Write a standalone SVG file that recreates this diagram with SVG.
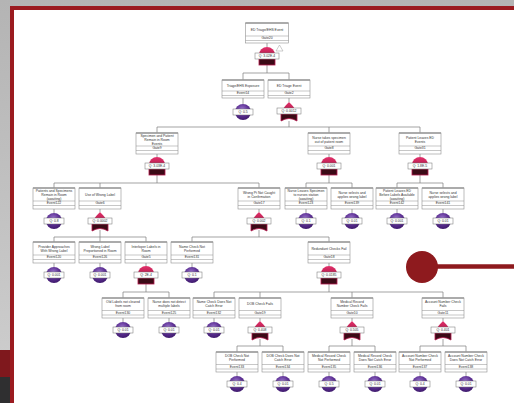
<svg xmlns="http://www.w3.org/2000/svg" xmlns:xlink="http://www.w3.org/1999/xlink" width="514" height="403" viewBox="0 0 514 403">
<defs>
<linearGradient id="bgG" x1="0" y1="0" x2="0" y2="1"><stop offset="0" stop-color="#b4b4b4"/><stop offset="1" stop-color="#cfcfcf"/></linearGradient>
<radialGradient id="pg" cx="0.45" cy="0.35" r="0.7"><stop offset="0" stop-color="#9c78cf"/><stop offset="0.55" stop-color="#5b2e92"/><stop offset="1" stop-color="#3a1766"/></radialGradient>
<linearGradient id="rg" x1="0" y1="0" x2="0" y2="1"><stop offset="0" stop-color="#e2326c"/><stop offset="1" stop-color="#a3103e"/></linearGradient>
<g id="and"><path d="M-8,8A8,8 0 0 1 8,8V12H-8Z" fill="url(#rg)"/><rect x="-8" y="12" width="16" height="6" fill="#3b0a16" stroke="#b3174b" stroke-width="0.8"/></g>
<g id="or"><path d="M0,0C3,3 7,7 8,12H-8C-7,7 -3,3 0,0Z" fill="url(#rg)"/><path d="M-8,12H8V19Q0,14 -8,19Z" fill="#3b0a16" stroke="#b3174b" stroke-width="0.8"/></g>
<circle id="ev" r="8" fill="url(#pg)"/>
</defs>
<style>
.bx{fill:#fff;stroke:#8f8f8f;stroke-width:0.6}
.bt{stroke:#9a9a9a;stroke-width:1.3}
.sp{stroke:#8f8f8f;stroke-width:0.5}
.t{font-family:"Liberation Sans",Arial,sans-serif;font-size:3.4px;fill:#333;text-anchor:middle}
.q{fill:#fff;stroke:#6f6f6f;stroke-width:0.5}
.c line{stroke:#7c7c7c;stroke-width:0.7}
</style>
<rect width="514" height="403" fill="url(#bgG)"/>
<rect x="0" y="350" width="12" height="27" fill="#7f181d"/>
<rect x="0" y="377" width="12" height="26" fill="#2f2f30"/>
<rect x="12" y="8" width="530" height="420" fill="#fff" stroke="#9b1b20" stroke-width="4"/>

<g class="c" id="connectors">
<line x1="267" y1="43" x2="267" y2="47"/><line x1="267" y1="65" x2="267" y2="73"/>
<line x1="243" y1="73" x2="289" y2="73"/><line x1="243" y1="73" x2="243" y2="80"/><line x1="289" y1="73" x2="289" y2="80"/>
<line x1="243" y1="98" x2="243" y2="104"/><line x1="289" y1="98" x2="289" y2="102"/><line x1="289" y1="121" x2="289" y2="127"/>
<line x1="157" y1="127" x2="420" y2="127"/><line x1="157" y1="127" x2="157" y2="133"/><line x1="329" y1="127" x2="329" y2="133"/><line x1="420" y1="127" x2="420" y2="133"/>
<line x1="157" y1="154" x2="157" y2="157"/><line x1="329" y1="154" x2="329" y2="157"/><line x1="420" y1="154" x2="420" y2="157"/>
<line x1="157" y1="175" x2="157" y2="183"/><line x1="329" y1="175" x2="329" y2="183"/><line x1="420" y1="175" x2="420" y2="183"/>
<line x1="54" y1="183" x2="259" y2="183"/><line x1="306" y1="183" x2="352" y2="183"/><line x1="397" y1="183" x2="443" y2="183"/>
<line x1="54" y1="183" x2="54" y2="188"/><line x1="100" y1="183" x2="100" y2="188"/><line x1="259" y1="183" x2="259" y2="188"/><line x1="306" y1="183" x2="306" y2="188"/><line x1="352" y1="183" x2="352" y2="188"/><line x1="397" y1="183" x2="397" y2="188"/><line x1="443" y1="183" x2="443" y2="188"/>
<line x1="54" y1="209" x2="54" y2="213"/><line x1="306" y1="209" x2="306" y2="213"/><line x1="352" y1="209" x2="352" y2="213"/><line x1="397" y1="209" x2="397" y2="213"/><line x1="443" y1="209" x2="443" y2="213"/>
<line x1="100" y1="209" x2="100" y2="212"/><line x1="259" y1="209" x2="259" y2="212"/>
<line x1="100" y1="230" x2="100" y2="237"/><line x1="259" y1="230" x2="259" y2="237"/>
<line x1="54" y1="237" x2="146" y2="237"/><line x1="192" y1="237" x2="329" y2="237"/>
<line x1="54" y1="237" x2="54" y2="242"/><line x1="100" y1="237" x2="100" y2="242"/><line x1="146" y1="237" x2="146" y2="242"/><line x1="192" y1="237" x2="192" y2="242"/><line x1="329" y1="237" x2="329" y2="242"/>
<line x1="54" y1="263" x2="54" y2="267"/><line x1="100" y1="263" x2="100" y2="267"/><line x1="192" y1="263" x2="192" y2="267"/>
<line x1="146" y1="263" x2="146" y2="266"/><line x1="329" y1="263" x2="329" y2="266"/>
<line x1="146" y1="284" x2="146" y2="292"/><line x1="329" y1="284" x2="329" y2="292"/>
<line x1="123" y1="292" x2="169" y2="292"/><line x1="214" y1="292" x2="443" y2="292"/>
<line x1="123" y1="292" x2="123" y2="298"/><line x1="169" y1="292" x2="169" y2="298"/><line x1="214" y1="292" x2="214" y2="298"/><line x1="260" y1="292" x2="260" y2="298"/><line x1="352" y1="292" x2="352" y2="298"/><line x1="443" y1="292" x2="443" y2="298"/>
<line x1="123" y1="318" x2="123" y2="322"/><line x1="169" y1="318" x2="169" y2="322"/><line x1="214" y1="318" x2="214" y2="322"/>
<line x1="260" y1="318" x2="260" y2="321"/><line x1="352" y1="318" x2="352" y2="321"/><line x1="443" y1="318" x2="443" y2="321"/>
<line x1="260" y1="339" x2="260" y2="346"/><line x1="352" y1="339" x2="352" y2="346"/><line x1="443" y1="339" x2="443" y2="346"/>
<line x1="237" y1="346" x2="283" y2="346"/><line x1="329" y1="346" x2="375" y2="346"/><line x1="420" y1="346" x2="466" y2="346"/>
<line x1="237" y1="346" x2="237" y2="352"/><line x1="283" y1="346" x2="283" y2="352"/><line x1="329" y1="346" x2="329" y2="352"/><line x1="375" y1="346" x2="375" y2="352"/><line x1="420" y1="346" x2="420" y2="352"/><line x1="466" y1="346" x2="466" y2="352"/>
<line x1="237" y1="372" x2="237" y2="376"/><line x1="283" y1="372" x2="283" y2="376"/><line x1="329" y1="372" x2="329" y2="376"/><line x1="375" y1="372" x2="375" y2="376"/><line x1="420" y1="372" x2="420" y2="376"/><line x1="466" y1="372" x2="466" y2="376"/>
</g>

<!-- Level 0 -->
<g id="gate20">
<rect class="bx" x="245.5" y="23" width="43" height="20"/><line class="bt" x1="245.5" y1="23" x2="288.5" y2="23"/>
<line class="sp" x1="245.5" y1="36" x2="288.5" y2="36"/><line class="sp" x1="245.5" y1="40.5" x2="288.5" y2="40.5"/>
<text class="t" x="267" y="31">ED Triage/EHS Event</text><text class="t" x="267" y="39.4">Gate20</text>
<use href="#and" x="267" y="47"/><polygon points="276,51 283,51 279.5,45" fill="#fff" stroke="#9a9a9a" stroke-width="0.5"/>
<rect class="q" x="255" y="53" width="24" height="6"/><text class="t" x="267" y="57.3">Q: 3.02E-4</text>
</g>
<!-- Level 1 -->
<g id="event14">
<rect class="bx" x="222" y="80" width="42" height="18"/><line class="bt" x1="222" y1="80" x2="264" y2="80"/>
<line class="sp" x1="222" y1="91" x2="264" y2="91"/><line class="sp" x1="222" y1="95.5" x2="264" y2="95.5"/>
<text class="t" x="243" y="86.8">Triage/EHS Exposure</text><text class="t" x="243" y="94.4">Event14</text>
<use href="#ev" x="243" y="112"/><rect class="q" x="233" y="109" width="20" height="6"/><text class="t" x="243" y="113.3">Q: 0.5</text>
</g>
<g id="gate2">
<rect class="bx" x="268" y="80" width="42" height="18"/><line class="bt" x1="268" y1="80" x2="310" y2="80"/>
<line class="sp" x1="268" y1="91" x2="310" y2="91"/><line class="sp" x1="268" y1="95.5" x2="310" y2="95.5"/>
<text class="t" x="289" y="86.8">ED Triage Event</text><text class="t" x="289" y="94.4">Gate2</text>
<use href="#or" x="289" y="102"/><rect class="q" x="277" y="108" width="24" height="6"/><text class="t" x="289" y="112.3">Q: 0.0012</text>
</g>
<!-- Level 2 -->
<g id="gate9">
<rect class="bx" x="136" y="133" width="42" height="21"/><line class="bt" x1="136" y1="133" x2="178" y2="133"/>
<line class="sp" x1="136" y1="146" x2="178" y2="146"/><line class="sp" x1="136" y1="150.5" x2="178" y2="150.5"/>
<text class="t" x="157" y="137.3">Specimen and Patient</text><text class="t" x="157" y="141.1">Remain in Room</text><text class="t" x="157" y="144.9">Events</text><text class="t" x="157" y="149.4">Gate9</text>
<use href="#and" x="157" y="157"/><rect class="q" x="145" y="163" width="24" height="6"/><text class="t" x="157" y="167.3">Q: 3.03E-4</text>
</g>
<g id="gate8">
<rect class="bx" x="308" y="133" width="42" height="21"/><line class="bt" x1="308" y1="133" x2="350" y2="133"/>
<line class="sp" x1="308" y1="146" x2="350" y2="146"/><line class="sp" x1="308" y1="150.5" x2="350" y2="150.5"/>
<text class="t" x="329" y="138.6">Nurse takes specimen</text><text class="t" x="329" y="142.6">out of patient room</text><text class="t" x="329" y="149.4">Gate8</text>
<use href="#and" x="329" y="157"/><rect class="q" x="317" y="163" width="24" height="6"/><text class="t" x="329" y="167.3">Q: 0.001</text>
</g>
<g id="gate31">
<rect class="bx" x="399" y="133" width="42" height="21"/><line class="bt" x1="399" y1="133" x2="441" y2="133"/>
<line class="sp" x1="399" y1="146" x2="441" y2="146"/><line class="sp" x1="399" y1="150.5" x2="441" y2="150.5"/>
<text class="t" x="420" y="138.6">Patient Leaves ED</text><text class="t" x="420" y="142.6">Events</text><text class="t" x="420" y="149.4">Gate31</text>
<use href="#and" x="420" y="157"/><rect class="q" x="408" y="163" width="24" height="6"/><text class="t" x="420" y="167.3">Q: 1.8E-5</text>
</g>
<!-- Level 3 -->
<g id="event122">
<rect class="bx" x="33" y="188" width="42" height="21"/><line class="bt" x1="33" y1="188" x2="75" y2="188"/>
<line class="sp" x1="33" y1="201" x2="75" y2="201"/><line class="sp" x1="33" y1="205.5" x2="75" y2="205.5"/>
<text class="t" x="54" y="192.3">Patients and Specimens</text><text class="t" x="54" y="196.1">Remain in Room</text><text class="t" x="54" y="199.9">(awaiting)</text><text class="t" x="54" y="204.4">Event122</text>
<use href="#ev" x="54" y="221"/><rect class="q" x="44" y="218" width="20" height="6"/><text class="t" x="54" y="222.3">Q: 0.8</text>
</g>
<g id="gate6">
<rect class="bx" x="79" y="188" width="42" height="21"/><line class="bt" x1="79" y1="188" x2="121" y2="188"/>
<line class="sp" x1="79" y1="201" x2="121" y2="201"/><line class="sp" x1="79" y1="205.5" x2="121" y2="205.5"/>
<text class="t" x="100" y="195.5">Use of Wrong Label</text><text class="t" x="100" y="204.4">Gate6</text>
<use href="#or" x="100" y="212"/><rect class="q" x="88" y="218" width="24" height="6"/><text class="t" x="100" y="222.3">Q: 0.0002</text>
</g>
<g id="gate17">
<rect class="bx" x="238" y="188" width="42" height="21"/><line class="bt" x1="238" y1="188" x2="280" y2="188"/>
<line class="sp" x1="238" y1="201" x2="280" y2="201"/><line class="sp" x1="238" y1="205.5" x2="280" y2="205.5"/>
<text class="t" x="259" y="193.6">Wrong Pt Not Caught</text><text class="t" x="259" y="197.6">in Confirmation</text><text class="t" x="259" y="204.4">Gate17</text>
<use href="#or" x="259" y="212"/><rect class="q" x="247" y="218" width="24" height="6"/><text class="t" x="259" y="222.3">Q: 0.002</text>
</g>
<g id="event123">
<rect class="bx" x="285" y="188" width="42" height="21"/><line class="bt" x1="285" y1="188" x2="327" y2="188"/>
<line class="sp" x1="285" y1="201" x2="327" y2="201"/><line class="sp" x1="285" y1="205.5" x2="327" y2="205.5"/>
<text class="t" x="306" y="192.3">Nurse Leaves Specimen</text><text class="t" x="306" y="196.1">to nurses station</text><text class="t" x="306" y="199.9">(awaiting)</text><text class="t" x="306" y="204.4">Event123</text>
<use href="#ev" x="306" y="221"/><rect class="q" x="296" y="218" width="20" height="6"/><text class="t" x="306" y="222.3">Q: 0.1</text>
</g>
<g id="event139">
<rect class="bx" x="331" y="188" width="42" height="21"/><line class="bt" x1="331" y1="188" x2="373" y2="188"/>
<line class="sp" x1="331" y1="201" x2="373" y2="201"/><line class="sp" x1="331" y1="205.5" x2="373" y2="205.5"/>
<text class="t" x="352" y="193.6">Nurse selects and</text><text class="t" x="352" y="197.6">applies wrong label</text><text class="t" x="352" y="204.4">Event139</text>
<use href="#ev" x="352" y="221"/><rect class="q" x="342" y="218" width="20" height="6"/><text class="t" x="352" y="222.3">Q: 0.01</text>
</g>
<g id="event142">
<rect class="bx" x="376" y="188" width="42" height="21"/><line class="bt" x1="376" y1="188" x2="418" y2="188"/>
<line class="sp" x1="376" y1="201" x2="418" y2="201"/><line class="sp" x1="376" y1="205.5" x2="418" y2="205.5"/>
<text class="t" x="397" y="192.3">Patient Leaves ED</text><text class="t" x="397" y="196.1">Before Labels Available</text><text class="t" x="397" y="199.9">(awaiting)</text><text class="t" x="397" y="204.4">Event142</text>
<use href="#ev" x="397" y="221"/><rect class="q" x="387" y="218" width="20" height="6"/><text class="t" x="397" y="222.3">Q: 0.001</text>
</g>
<g id="event141">
<rect class="bx" x="422" y="188" width="42" height="21"/><line class="bt" x1="422" y1="188" x2="464" y2="188"/>
<line class="sp" x1="422" y1="201" x2="464" y2="201"/><line class="sp" x1="422" y1="205.5" x2="464" y2="205.5"/>
<text class="t" x="443" y="193.6">Nurse selects and</text><text class="t" x="443" y="197.6">applies wrong label</text><text class="t" x="443" y="204.4">Event141</text>
<use href="#ev" x="443" y="221"/><rect class="q" x="433" y="218" width="20" height="6"/><text class="t" x="443" y="222.3">Q: 0.01</text>
</g>
<!-- Level 4 -->
<g id="event120">
<rect class="bx" x="33" y="242" width="42" height="21"/><line class="bt" x1="33" y1="242" x2="75" y2="242"/>
<line class="sp" x1="33" y1="255" x2="75" y2="255"/><line class="sp" x1="33" y1="259.5" x2="75" y2="259.5"/>
<text class="t" x="54" y="247.6">Provider Approaches</text><text class="t" x="54" y="251.6">With Wrong Label</text><text class="t" x="54" y="258.4">Event120</text>
<use href="#ev" x="54" y="275"/><rect class="q" x="44" y="272" width="20" height="6"/><text class="t" x="54" y="276.3">Q: 0.001</text>
</g>
<g id="event126">
<rect class="bx" x="79" y="242" width="42" height="21"/><line class="bt" x1="79" y1="242" x2="121" y2="242"/>
<line class="sp" x1="79" y1="255" x2="121" y2="255"/><line class="sp" x1="79" y1="259.5" x2="121" y2="259.5"/>
<text class="t" x="100" y="247.6">Wrong Label</text><text class="t" x="100" y="251.6">Preportioned in Room</text><text class="t" x="100" y="258.4">Event126</text>
<use href="#ev" x="100" y="275"/><rect class="q" x="90" y="272" width="20" height="6"/><text class="t" x="100" y="276.3">Q: 0.001</text>
</g>
<g id="gate5">
<rect class="bx" x="125" y="242" width="42" height="21"/><line class="bt" x1="125" y1="242" x2="167" y2="242"/>
<line class="sp" x1="125" y1="255" x2="167" y2="255"/><line class="sp" x1="125" y1="259.5" x2="167" y2="259.5"/>
<text class="t" x="146" y="247.6">Interloper Labels in</text><text class="t" x="146" y="251.6">Room</text><text class="t" x="146" y="258.4">Gate5</text>
<use href="#and" x="146" y="266"/><rect class="q" x="134" y="272" width="24" height="6"/><text class="t" x="146" y="276.3">Q: 2E-4</text>
</g>
<g id="event131">
<rect class="bx" x="171" y="242" width="42" height="21"/><line class="bt" x1="171" y1="242" x2="213" y2="242"/>
<line class="sp" x1="171" y1="255" x2="213" y2="255"/><line class="sp" x1="171" y1="259.5" x2="213" y2="259.5"/>
<text class="t" x="192" y="247.6">Name Check Not</text><text class="t" x="192" y="251.6">Performed</text><text class="t" x="192" y="258.4">Event131</text>
<use href="#ev" x="192" y="275"/><rect class="q" x="182" y="272" width="20" height="6"/><text class="t" x="192" y="276.3">Q: 0.1</text>
</g>
<g id="gate18">
<rect class="bx" x="308" y="242" width="42" height="21"/><line class="bt" x1="308" y1="242" x2="350" y2="242"/>
<line class="sp" x1="308" y1="255" x2="350" y2="255"/><line class="sp" x1="308" y1="259.5" x2="350" y2="259.5"/>
<text class="t" x="329" y="249.5">Redundant Checks Fail</text><text class="t" x="329" y="258.4">Gate18</text>
<use href="#and" x="329" y="266"/><rect class="q" x="317" y="272" width="24" height="6"/><text class="t" x="329" y="276.3">Q: 0.0185</text>
</g>
<!-- Level 5 -->
<g id="event130">
<rect class="bx" x="102" y="298" width="42" height="20"/><line class="bt" x1="102" y1="298" x2="144" y2="298"/>
<line class="sp" x1="102" y1="310.5" x2="144" y2="310.5"/><line class="sp" x1="102" y1="315" x2="144" y2="315"/>
<text class="t" x="123" y="303.4">Old Labels not cleared</text><text class="t" x="123" y="307.4">from room</text><text class="t" x="123" y="313.9">Event130</text>
<use href="#ev" x="123" y="330"/><rect class="q" x="113" y="327" width="20" height="6"/><text class="t" x="123" y="331.3">Q: 0.01</text>
</g>
<g id="event125">
<rect class="bx" x="148" y="298" width="42" height="20"/><line class="bt" x1="148" y1="298" x2="190" y2="298"/>
<line class="sp" x1="148" y1="310.5" x2="190" y2="310.5"/><line class="sp" x1="148" y1="315" x2="190" y2="315"/>
<text class="t" x="169" y="303.4">Nurse does not detect</text><text class="t" x="169" y="307.4">multiple labels</text><text class="t" x="169" y="313.9">Event125</text>
<use href="#ev" x="169" y="330"/><rect class="q" x="159" y="327" width="20" height="6"/><text class="t" x="169" y="331.3">Q: 0.01</text>
</g>
<g id="event132">
<rect class="bx" x="193" y="298" width="42" height="20"/><line class="bt" x1="193" y1="298" x2="235" y2="298"/>
<line class="sp" x1="193" y1="310.5" x2="235" y2="310.5"/><line class="sp" x1="193" y1="315" x2="235" y2="315"/>
<text class="t" x="214" y="303.4">Name Check Does Not</text><text class="t" x="214" y="307.4">Catch Error</text><text class="t" x="214" y="313.9">Event132</text>
<use href="#ev" x="214" y="330"/><rect class="q" x="204" y="327" width="20" height="6"/><text class="t" x="214" y="331.3">Q: 0.01</text>
</g>
<g id="gate19">
<rect class="bx" x="239" y="298" width="42" height="20"/><line class="bt" x1="239" y1="298" x2="281" y2="298"/>
<line class="sp" x1="239" y1="310.5" x2="281" y2="310.5"/><line class="sp" x1="239" y1="315" x2="281" y2="315"/>
<text class="t" x="260" y="305.3">DOB Check Fails</text><text class="t" x="260" y="313.9">Gate19</text>
<use href="#or" x="260" y="321"/><rect class="q" x="248" y="327" width="24" height="6"/><text class="t" x="260" y="331.3">Q: 0.408</text>
</g>
<g id="gate10">
<rect class="bx" x="331" y="298" width="42" height="20"/><line class="bt" x1="331" y1="298" x2="373" y2="298"/>
<line class="sp" x1="331" y1="310.5" x2="373" y2="310.5"/><line class="sp" x1="331" y1="315" x2="373" y2="315"/>
<text class="t" x="352" y="303.4">Medical Record</text><text class="t" x="352" y="307.4">Number Check Fails</text><text class="t" x="352" y="313.9">Gate10</text>
<use href="#or" x="352" y="321"/><rect class="q" x="340" y="327" width="24" height="6"/><text class="t" x="352" y="331.3">Q: 0.505</text>
</g>
<g id="gate11">
<rect class="bx" x="422" y="298" width="42" height="20"/><line class="bt" x1="422" y1="298" x2="464" y2="298"/>
<line class="sp" x1="422" y1="310.5" x2="464" y2="310.5"/><line class="sp" x1="422" y1="315" x2="464" y2="315"/>
<text class="t" x="443" y="303.4">Account Number Check</text><text class="t" x="443" y="307.4">Fails</text><text class="t" x="443" y="313.9">Gate11</text>
<use href="#or" x="443" y="321"/><rect class="q" x="431" y="327" width="24" height="6"/><text class="t" x="443" y="331.3">Q: 0.401</text>
</g>
<!-- Level 6 -->
<g id="event133">
<rect class="bx" x="216" y="352" width="42" height="20"/><line class="bt" x1="216" y1="352" x2="258" y2="352"/>
<line class="sp" x1="216" y1="364.5" x2="258" y2="364.5"/><line class="sp" x1="216" y1="369" x2="258" y2="369"/>
<text class="t" x="237" y="357.4">DOB Check Not</text><text class="t" x="237" y="361.4">Performed</text><text class="t" x="237" y="367.9">Event133</text>
<use href="#ev" x="237" y="384"/><rect class="q" x="227" y="381" width="20" height="6"/><text class="t" x="237" y="385.3">Q: 0.4</text>
</g>
<g id="event134">
<rect class="bx" x="262" y="352" width="42" height="20"/><line class="bt" x1="262" y1="352" x2="304" y2="352"/>
<line class="sp" x1="262" y1="364.5" x2="304" y2="364.5"/><line class="sp" x1="262" y1="369" x2="304" y2="369"/>
<text class="t" x="283" y="357.4">DOB Check Does Not</text><text class="t" x="283" y="361.4">Catch Error</text><text class="t" x="283" y="367.9">Event134</text>
<use href="#ev" x="283" y="384"/><rect class="q" x="273" y="381" width="20" height="6"/><text class="t" x="283" y="385.3">Q: 0.01</text>
</g>
<g id="event135">
<rect class="bx" x="308" y="352" width="42" height="20"/><line class="bt" x1="308" y1="352" x2="350" y2="352"/>
<line class="sp" x1="308" y1="364.5" x2="350" y2="364.5"/><line class="sp" x1="308" y1="369" x2="350" y2="369"/>
<text class="t" x="329" y="357.4">Medical Record Check</text><text class="t" x="329" y="361.4">Not Performed</text><text class="t" x="329" y="367.9">Event135</text>
<use href="#ev" x="329" y="384"/><rect class="q" x="319" y="381" width="20" height="6"/><text class="t" x="329" y="385.3">Q: 0.5</text>
</g>
<g id="event136">
<rect class="bx" x="354" y="352" width="42" height="20"/><line class="bt" x1="354" y1="352" x2="396" y2="352"/>
<line class="sp" x1="354" y1="364.5" x2="396" y2="364.5"/><line class="sp" x1="354" y1="369" x2="396" y2="369"/>
<text class="t" x="375" y="357.4">Medical Record Check</text><text class="t" x="375" y="361.4">Does Not Catch Error</text><text class="t" x="375" y="367.9">Event136</text>
<use href="#ev" x="375" y="384"/><rect class="q" x="365" y="381" width="20" height="6"/><text class="t" x="375" y="385.3">Q: 0.01</text>
</g>
<g id="event137">
<rect class="bx" x="399" y="352" width="42" height="20"/><line class="bt" x1="399" y1="352" x2="441" y2="352"/>
<line class="sp" x1="399" y1="364.5" x2="441" y2="364.5"/><line class="sp" x1="399" y1="369" x2="441" y2="369"/>
<text class="t" x="420" y="357.4">Account Number Check</text><text class="t" x="420" y="361.4">Not Performed</text><text class="t" x="420" y="367.9">Event137</text>
<use href="#ev" x="420" y="384"/><rect class="q" x="410" y="381" width="20" height="6"/><text class="t" x="420" y="385.3">Q: 0.4</text>
</g>
<g id="event138">
<rect class="bx" x="445" y="352" width="42" height="20"/><line class="bt" x1="445" y1="352" x2="487" y2="352"/>
<line class="sp" x1="445" y1="364.5" x2="487" y2="364.5"/><line class="sp" x1="445" y1="369" x2="487" y2="369"/>
<text class="t" x="466" y="357.4">Account Number Check</text><text class="t" x="466" y="361.4">Does Not Catch Error</text><text class="t" x="466" y="367.9">Event138</text>
<use href="#ev" x="466" y="384"/><rect class="q" x="456" y="381" width="20" height="6"/><text class="t" x="466" y="385.3">Q: 0.01</text>
</g>

<g id="callout">
<line x1="422" y1="266.5" x2="514" y2="266.5" stroke="#8e1a1e" stroke-width="4.5"/>
<circle cx="422" cy="267" r="16" fill="#8e1a1e"/>
</g>
</svg>
